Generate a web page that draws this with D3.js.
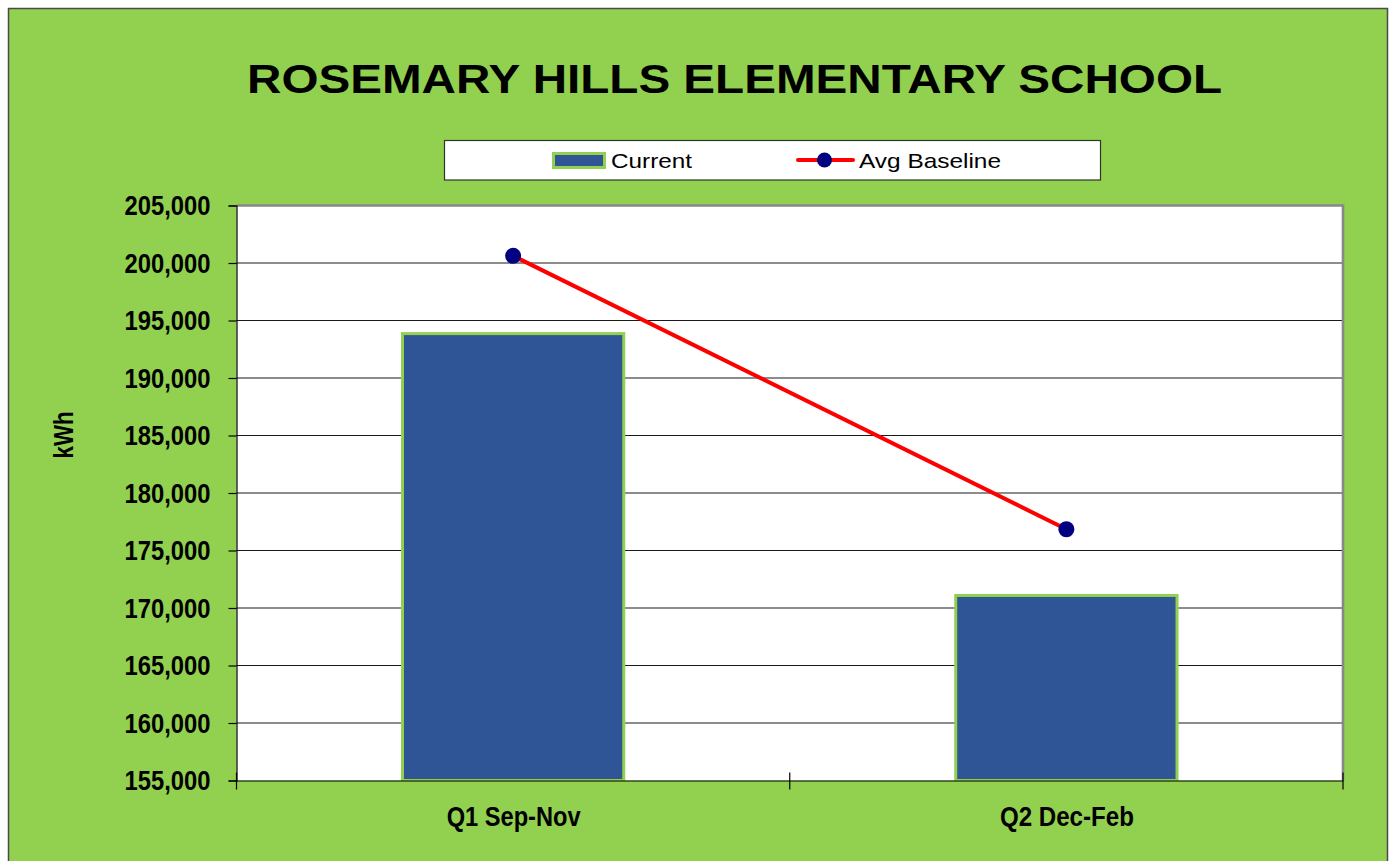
<!DOCTYPE html>
<html>
<head>
<meta charset="utf-8">
<script src="https://cdn.jsdelivr.net/npm/d3@7"></script>
<style>
  html, body { margin: 0; padding: 0; background: #ffffff; }
  svg { display: block; }
  text { font-family: "Liberation Sans", Arial, sans-serif; }
</style>
</head>
<body>
<svg id="chart" width="1393" height="861"></svg>
<script>
// ---- data ----
const categories = ["Q1 Sep-Nov", "Q2 Dec-Feb"];
const currentValues = [193860, 171090];
const baselineValues = [200620, 176850];
const yTickValues = [155000, 160000, 165000, 170000, 175000, 180000, 185000, 190000, 195000, 200000, 205000];
const titleText = "ROSEMARY HILLS ELEMENTARY SCHOOL";
const yAxisTitle = "kWh";
const seriesNames = ["Current", "Avg Baseline"];

// ---- layout ----
const W = 1393, H = 861;
const plot = { left: 236.5, right: 1343, top: 205.5, bottom: 780.5 };
const green = "#92D050", blue = "#2F5597", red = "#FF0000", navy = "#000080";

const svg = d3.select("#chart");

// outer frame
svg.append("rect").attr("x", 8.5).attr("y", 8.5).attr("width", 1379).attr("height", 870)
  .attr("fill", green).attr("stroke", "#4a4a4a").attr("stroke-width", 1.5);

// scales
const x = d3.scaleBand().domain(categories).range([plot.left, plot.right]).padding(0);
const y = d3.scaleLinear().domain([155000, 205000]).range([plot.bottom, plot.top]);

// plot background
svg.append("rect").attr("x", plot.left).attr("y", plot.top)
  .attr("width", plot.right - plot.left).attr("height", plot.bottom - plot.top)
  .attr("fill", "#ffffff");

// gridlines
svg.append("g").selectAll("line").data(yTickValues.slice(1, -1)).join("line")
  .attr("x1", plot.left).attr("x2", plot.right)
  .attr("y1", d => y(d)).attr("y2", d => y(d))
  .attr("stroke", "#1a1a1a").attr("stroke-width", 1.1);

// plot border top/right (gray)
svg.append("path")
  .attr("d", `M${plot.left},${plot.top}H${plot.right}V${plot.bottom}`)
  .attr("fill", "none").attr("stroke", "#888888").attr("stroke-width", 2.6);

// bars
const barW = x.step() * 0.4;
svg.append("g").selectAll("rect").data(categories).join("rect")
  .attr("x", d => x(d) + x.bandwidth() / 2 - barW / 2)
  .attr("y", (d, i) => y(currentValues[i]))
  .attr("width", barW)
  .attr("height", (d, i) => plot.bottom - y(currentValues[i]))
  .attr("fill", blue).attr("stroke", green).attr("stroke-width", 3);

// axes
const yAxis = d3.axisLeft(y).tickValues(yTickValues).tickSize(8).tickFormat(d3.format(","));
const gy = svg.append("g").attr("transform", `translate(${plot.left},0)`).call(yAxis);
gy.select(".domain").attr("stroke", "#000").attr("stroke-width", 1.2);
gy.selectAll(".tick line").attr("stroke", "#000").attr("stroke-width", 1.2);
gy.selectAll(".tick text")
  .attr("x", -26).attr("dy", "0.35em")
  .attr("fill", "#000").attr("font-size", 27).attr("font-weight", "bold")
  .attr("font-family", "'Liberation Sans', Arial, sans-serif")
  .attr("textLength", 86).attr("lengthAdjust", "spacingAndGlyphs");

const xAxis = d3.axisBottom(x).tickSize(0).tickFormat("");
const gx = svg.append("g").attr("transform", `translate(0,${plot.bottom})`).call(xAxis);
gx.select(".domain").attr("stroke", "#000").attr("stroke-width", 1.2);
gx.selectAll(".tick").remove();
// category boundary ticks
const boundaries = [plot.left].concat(categories.map(c => x(c) + x.step()));
gx.selectAll("line.bt").data(boundaries).join("line").attr("class", "bt")
  .attr("x1", d => d).attr("x2", d => d).attr("y1", -8).attr("y2", 9)
  .attr("stroke", "#000").attr("stroke-width", 1.2);
// category labels
svg.append("g").selectAll("text").data(categories).join("text")
  .attr("x", d => x(d) + x.bandwidth() / 2 + 0.5)
  .attr("y", 826)
  .attr("text-anchor", "middle")
  .attr("font-size", 27).attr("font-weight", "bold").attr("fill", "#000")
  .attr("textLength", 134).attr("lengthAdjust", "spacingAndGlyphs")
  .text(d => d);

// baseline line
const line = d3.line().x((d, i) => x(categories[i]) + x.bandwidth() / 2).y(d => y(d));
svg.append("path").datum(baselineValues).attr("d", line)
  .attr("fill", "none").attr("stroke", red).attr("stroke-width", 4);
svg.append("g").selectAll("circle").data(baselineValues).join("circle")
  .attr("cx", (d, i) => x(categories[i]) + x.bandwidth() / 2)
  .attr("cy", d => y(d)).attr("r", 8).attr("fill", navy);

// y axis title
svg.append("text")
  .attr("transform", "translate(73,435) rotate(-90)")
  .attr("text-anchor", "middle")
  .attr("font-size", 27).attr("font-weight", "bold").attr("fill", "#000")
  .attr("textLength", 47).attr("lengthAdjust", "spacingAndGlyphs")
  .text(yAxisTitle);

// title
svg.append("text")
  .attr("x", 734.5).attr("y", 93)
  .attr("text-anchor", "middle")
  .attr("font-size", 41).attr("font-weight", "bold").attr("fill", "#000")
  .attr("textLength", 975).attr("lengthAdjust", "spacingAndGlyphs")
  .text(titleText);

// legend
const lg = svg.append("g");
lg.append("rect").attr("x", 444.5).attr("y", 140.5).attr("width", 656).attr("height", 39.5)
  .attr("fill", "#ffffff").attr("stroke", "#2b3a1f").attr("stroke-width", 1.2);
lg.append("rect").attr("x", 553.5).attr("y", 153.5).attr("width", 51).attr("height", 14)
  .attr("fill", blue).attr("stroke", green).attr("stroke-width", 3);
lg.append("text").attr("x", 611).attr("y", 167.5)
  .attr("font-size", 21).attr("fill", "#000")
  .attr("textLength", 81).attr("lengthAdjust", "spacingAndGlyphs")
  .text(seriesNames[0]);
lg.append("line").attr("x1", 798).attr("x2", 853).attr("y1", 160).attr("y2", 160)
  .attr("stroke", red).attr("stroke-width", 4).attr("stroke-linecap", "round");
lg.append("circle").attr("cx", 824.5).attr("cy", 160).attr("r", 7.5).attr("fill", navy);
lg.append("text").attr("x", 859).attr("y", 167.5)
  .attr("font-size", 21).attr("fill", "#000")
  .attr("textLength", 142).attr("lengthAdjust", "spacingAndGlyphs")
  .text(seriesNames[1]);
</script>
</body>
</html>
